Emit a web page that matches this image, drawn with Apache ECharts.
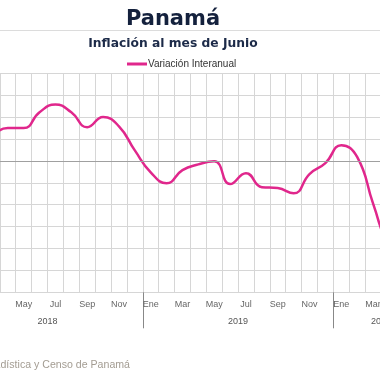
<!DOCTYPE html>
<html>
<head>
<meta charset="utf-8">
<script src="https://cdn.jsdelivr.net/npm/echarts@6/dist/echarts.min.js"></script>
<style>
html,body{margin:0;padding:0;background:#fff;width:380px;height:380px;overflow:hidden;position:relative}
#c{position:absolute;left:-48px;top:0;width:477px;height:380px}
</style>
</head>
<body>
<div id="c"></div>
<script>
// Months Jan 2018 .. Jun 2020
var months = ['Ene','Feb','Mar','Abr','May','Jun','Jul','Ago','Sep','Oct','Nov','Dic',
              'Ene','Feb','Mar','Abr','May','Jun','Jul','Ago','Sep','Oct','Nov','Dic',
              'Ene','Feb','Mar','Abr','May','Jun'];
var years = ['2018','2019','2020'];
var yearLabelIdx = [6, 18, 27];
var interanual = [0.50, 0.55, 0.62, 0.75, 0.75, 1.11, 1.29, 1.11, 0.77, 1.00, 0.79, 0.24,
                  -0.26, -0.51, -0.21, -0.08, -0.01, -0.53, -0.28, -0.60, -0.62, -0.74, -0.30, -0.05,
                  0.36, 0.09, -0.97, -2.0, -2.5, -2.6];
var yTicks = {min: -3, max: 2, interval: 0.5};

var OX = 48; // chart canvas is shifted 48px left of the window
var boundaries = [];
for (var i = 0; i <= months.length; i++) {
  var k = yearLabelIdx.indexOf(i);
  boundaries.push(k >= 0 ? years[k] : ' ' + i);
}

var chart = echarts.init(document.getElementById('c'), null, {renderer: 'canvas'});
chart.setOption({
  animation: false,
  backgroundColor: '#fff',
  title: [
    {text: 'Panamá', left: 173 + OX, textAlign: 'center', top: 9, padding: 0,
     textStyle: {fontFamily: 'DejaVu Sans', fontWeight: 'bold', fontSize: 21, color: '#14213d'}},
    {text: 'Inflación al mes de Junio', left: 173 + OX, textAlign: 'center', top: 38, padding: 0,
     textStyle: {fontFamily: 'DejaVu Sans', fontWeight: 'bold', fontSize: 12.3, color: '#1c2a48'}}
  ],
  legend: {
    left: 127 + OX, top: 59, padding: 0, icon: 'rect', itemWidth: 20, itemHeight: 3,
    textStyle: {fontFamily: 'Liberation Sans', fontSize: 10, color: '#333', padding: [0, 0, 0, -4]}
  },
  grid: {left: 0.2, right: 0.4, top: 73.3, bottom: 87.7, containLabel: false},
  xAxis: [
    {
      type: 'category', data: months, boundaryGap: true, position: 'bottom',
      axisLine: {show: true, lineStyle: {color: '#cfcfcf', width: 1}},
      axisTick: {show: false},
      axisLabel: {interval: function (idx) { return idx % 2 === 0 && idx >= 4; },
                  fontFamily: 'Liberation Sans', fontSize: 9, color: '#666', margin: 8},
      splitLine: {show: true, interval: 0, lineStyle: {color: '#d6d6d6', width: 1}}
    },
    {
      type: 'category', data: boundaries, boundaryGap: false, position: 'bottom',
      axisLine: {show: false},
      axisTick: {show: true, length: 36, interval: function (idx) { return idx % 12 === 0; },
                 lineStyle: {color: '#888', width: 1}},
      axisLabel: {interval: function (idx) { return yearLabelIdx.indexOf(idx) >= 0; },
                  fontFamily: 'Liberation Sans', fontSize: 9, color: '#555', margin: 25},
      splitLine: {show: false}
    }
  ],
  yAxis: {
    type: 'value', min: yTicks.min, max: yTicks.max, interval: yTicks.interval,
    axisLine: {show: false}, axisTick: {show: false}, axisLabel: {show: false},
    splitLine: {show: true, lineStyle: {color: '#d6d6d6', width: 1}}
  },
  series: [{
    name: 'Variación Interanual', type: 'line', xAxisIndex: 0, data: interanual,
    smooth: 0.5, symbol: 'none', color: '#E0278C',
    lineStyle: {width: 2.5, color: '#E0278C'},
    markLine: {silent: true, symbol: 'none', label: {show: false},
               lineStyle: {color: '#a0a0a0', width: 1, type: 'solid'},
               data: [{yAxis: 0}]}
  }],
  graphic: [
    {type: 'line', shape: {x1: 0, y1: 30.5, x2: 477, y2: 30.5}, style: {stroke: '#dcdcdc', lineWidth: 1}},
    {type: 'text', x: 130 + OX, y: 365, style: {text: 'Fuente: Instituto Nacional de Estadística y Censo de Panamá',
      align: 'right', verticalAlign: 'middle', fill: '#a39c92', font: '10.6px "Liberation Sans"'}}
  ]
});
</script>
</body>
</html>
